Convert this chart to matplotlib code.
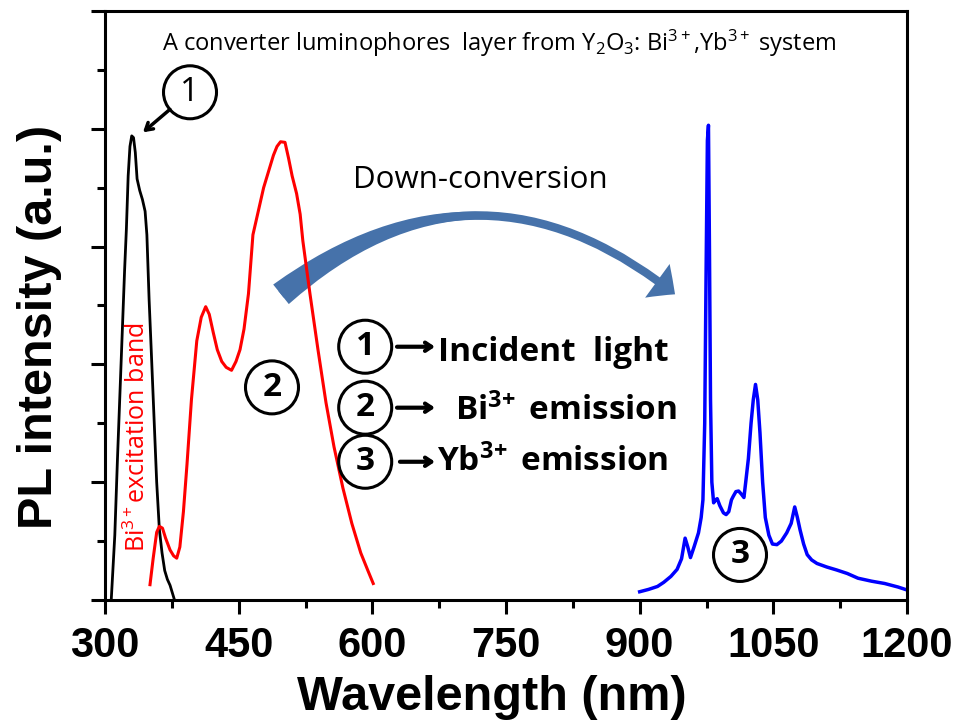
import numpy as np
import matplotlib
matplotlib.use('Agg')
import matplotlib.pyplot as plt
from matplotlib.patches import FancyArrowPatch
from matplotlib.ticker import MultipleLocator

# spectra (wavelength in nm, intensity in a.u.)
black_nm = [307, 311, 314, 317, 320, 322, 324, 326, 328, 330, 332, 334, 336, 339, 342,
            345, 347, 349.5, 352, 355, 358, 361, 364, 367, 370, 373, 376, 378]
black_v = [0.0, 0.11, 0.24, 0.36, 0.48, 0.56, 0.63, 0.72, 0.77, 0.788, 0.785, 0.76, 0.715,
           0.695, 0.68, 0.66, 0.62, 0.51, 0.42, 0.31, 0.2, 0.12, 0.08, 0.05, 0.035, 0.025,
           0.01, 0.0]

red_nm = [350.5, 354, 358, 361, 364.5, 368, 373, 377, 380.5, 384, 388, 392, 397, 403, 408,
          413, 417, 421.5, 426, 431, 436, 442, 447, 451.5, 456, 461, 466, 472, 478, 484,
          489, 493, 497, 502, 506, 510, 515, 519, 522, 530, 539, 548, 557, 567, 577, 587,
          595, 601]
red_v = [0.026, 0.07, 0.115, 0.125, 0.122, 0.105, 0.085, 0.075, 0.071, 0.09, 0.15, 0.23,
         0.34, 0.44, 0.48, 0.498, 0.485, 0.454, 0.425, 0.405, 0.395, 0.39, 0.405, 0.425,
         0.46, 0.52, 0.62, 0.66, 0.70, 0.73, 0.755, 0.77, 0.778, 0.777, 0.75, 0.72, 0.69,
         0.655, 0.61, 0.52, 0.425, 0.335, 0.26, 0.19, 0.13, 0.08, 0.05, 0.028]

blue_nm = [900, 910, 920, 927, 935, 942, 947, 951, 954, 957, 961, 966, 969, 971, 973,
           974.5, 976, 977.2, 978.3, 979.5, 981, 983, 985, 987, 990, 994, 997, 1000, 1003,
           1005, 1008, 1011, 1014, 1017, 1019, 1022, 1025, 1027.5, 1030, 1032.5, 1035,
           1038, 1041, 1045, 1049, 1054, 1059, 1065, 1070, 1074, 1077, 1080, 1084, 1088,
           1093, 1099, 1110, 1121, 1133, 1145, 1160, 1175, 1190, 1200]
blue_v = [0.014, 0.018, 0.023, 0.03, 0.04, 0.052, 0.07, 0.105, 0.09, 0.072, 0.09, 0.114,
          0.14, 0.17, 0.3, 0.55, 0.78, 0.806, 0.6, 0.34, 0.2, 0.165, 0.17, 0.172, 0.16,
          0.148, 0.145, 0.15, 0.17, 0.176, 0.184, 0.185, 0.18, 0.174, 0.2, 0.24, 0.3, 0.34,
          0.366, 0.34, 0.284, 0.2, 0.14, 0.11, 0.095, 0.094, 0.1, 0.114, 0.13, 0.158, 0.14,
          0.119, 0.095, 0.077, 0.068, 0.062, 0.056, 0.051, 0.045, 0.037, 0.032, 0.028,
          0.022, 0.017]

x_ticks = [300, 450, 600, 750, 900, 1050, 1200]

title_txt = 'A converter luminophores  layer from Y$_2$O$_3$: Bi$^{3+}$,Yb$^{3+}$ system'
legend_rows = ['Incident  light', 'Bi$^{\\mathbf{3\\!+}}$ emission',
               'Yb$^{\\mathbf{3\\!+}}$ emission']

plt.rcParams['font.family'] = ['Liberation Sans', 'DejaVu Sans']
plt.rcParams['mathtext.fontset'] = 'custom'
plt.rcParams['mathtext.rm'] = 'Open Sans'
plt.rcParams['mathtext.it'] = 'Open Sans:italic'
plt.rcParams['mathtext.bf'] = 'Open Sans:bold'

fig = plt.figure(figsize=(9.6, 7.2), dpi=100)
ax = fig.add_axes([105/960, 120/720, 802/960, 589/720])

ax.plot(black_nm, black_v, color='black', lw=2.0)
ax.plot(red_nm, red_v, color='#ff0000', lw=2.2)
ax.plot(blue_nm, blue_v, color='#0000ff', lw=2.5)

ax.set_xlim(300, 1200)
ax.set_ylim(0, 1.0)
ax.set_xticks(x_ticks)
ax.set_xticklabels([str(t) for t in x_ticks], fontweight='bold')
ax.xaxis.set_minor_locator(MultipleLocator(75))
ax.yaxis.set_major_locator(MultipleLocator(0.2))
ax.yaxis.set_minor_locator(MultipleLocator(0.1))
ax.set_yticklabels([])
ax.tick_params(which='major', direction='out', length=10, width=2.2, labelsize=30, pad=9)
ax.tick_params(which='minor', direction='out', length=6, width=2.2)
for sp in ax.spines.values():
    sp.set_linewidth(2.2)

ax.set_xlabel('Wavelength (nm)', fontsize=35, fontweight='bold')
ax.xaxis.set_label_coords(0.4825, -0.127)
ax.set_ylabel('PL intensity (a.u.)', fontsize=35, fontweight='bold')
ax.yaxis.set_label_coords(-0.054, 0.464)

ax.text(364, 0.932, title_txt, fontsize=17, family='Open Sans', ha='left', va='baseline')
ax.text(578, 0.70, 'Down-conversion', fontsize=22.5, family='Open Sans',
        ha='left', va='baseline')
ax.text(337, 0.2755, 'Bi$^{3+}$excitation band', fontsize=18, family='Open Sans',
        color='#ff0000', rotation=90, ha='center', va='center')


def circled(x, y, s, weight='bold'):
    ax.text(x, y, s, fontsize=24, family='Open Sans', fontweight=weight, ha='center',
            va='center', bbox=dict(boxstyle='circle,pad=0.3', fc='none', ec='black', lw=2.2))


# markers on the curves
circled(395.4, 0.862, '1', 'normal')
ax.annotate('', xy=(342.6, 0.794), xytext=(372.9, 0.833),
            arrowprops=dict(arrowstyle='->,head_length=0.5,head_width=0.3', lw=2.5, color='black',
                            shrinkA=0, shrinkB=0))
circled(487.4, 0.361, '2')
circled(1012.6, 0.0765, '3')

# legend block
row_y = [0.430, 0.3265, 0.2347]
arrow_x0 = [627.7, 627.7, 631.0]
text_x = [673.7, 692.8, 672.6]
text_base = [0.405, 0.306, 0.218]
for i in range(3):
    circled(592, row_y[i], str(i + 1))
    ax.annotate('', xy=(670.3, row_y[i]), xytext=(arrow_x0[i], row_y[i]),
                arrowprops=dict(arrowstyle='->,head_length=0.45,head_width=0.3', lw=3,
                                color='black', shrinkA=0, shrinkB=0))
    ax.text(text_x[i], text_base[i], legend_rows[i], fontsize=24, family='Open Sans',
            fontweight='bold', ha='left', va='baseline')

# curved down-conversion arrow
start = (497.5, 0.519)
end = (939.7, 0.519)
band = FancyArrowPatch(start, end, connectionstyle='arc3,rad=-0.4',
                       arrowstyle='wedge,tail_width=1.8,shrink_factor=0.3',
                       mutation_scale=10, fc='#4672aa', ec='none', shrinkA=0, shrinkB=0)
head = FancyArrowPatch(start, end, connectionstyle='arc3,rad=-0.4',
                       arrowstyle='simple,head_length=1.6,head_width=3.0,tail_width=0.6',
                       mutation_scale=10, fc='#4672aa', ec='none', shrinkA=0, shrinkB=0)
ax.add_patch(band)
ax.add_patch(head)

fig.savefig('out.png', dpi=100)
